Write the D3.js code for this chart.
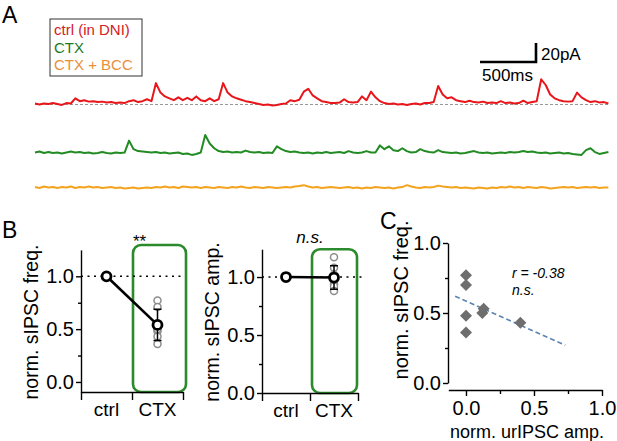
<!DOCTYPE html>
<html>
<head>
<meta charset="utf-8">
<script src="https://cdn.jsdelivr.net/npm/d3@7"></script>
<style>
  body { margin: 0; background: #fff; }
  svg { display: block; font-family: "Liberation Sans", Arial, sans-serif; }
</style>
</head>
<body>
<div id="chart"></div>
<script>
// ---- A: example traces, pA, one sample every 40 ms ----
const DT = 40;
const ctrlTrace = [
  0.5, -0.5, 0.5, 0, 1, 0, -1, 1, 0.5, 6, 3, 4, 2.5, 3, 2, 2.5, 1.5, 2, 1, 1.5,
  1, 3, 4, 2, 3, 5, 3, 22, 12, 8, 6, 4, 7, 4, 6.5, 4, 8, 4, 3, 6,
  3, 5, 22, 12, 8, 6, 4.5, 3, 2, 1, 0, -1, -0.5, -1.5, -1, 0, 0.5, 4, 3, 4.5,
  13, 16, 9, 6, 3, 2, 1, 1, 1.5, 5, 2, 1.5, 2, 8, 4, 13, 7, 3, 1, 0,
  0.5, -0.5, 0, -1, 0, 0.5, -0.5, 1, 1, 2, 19, 10, 6, 7, 4, 3, 2, 3.5, 2, 1.5,
  2.5, 1, 1.5, 1, 3, 1, 1.5, 0.5, 1, 3.5, 1, 2, 3, 26, 20, 10, 6, 4, 3, 2.5,
  3, 12, 7, 4, 2, 3, 1.5, 2, 0.5
];
const ctxTrace = [
  0.5, 1.5, 0, 1, 0, 0.5, -0.5, 0.5, 1.5, 0.5, 1, 0, 0.5, -0.5, 0, 1, 0, -0.5, 0.5, 0,
  0.5, 13, 4, 2, 1.5, 1, 0.5, 1, 0, 0.5, -0.5, 0, 0.5, -1, -0.5, -2, -1, 0.5, 19, 10,
  5, 2, 1, 1.5, 0.5, 1, 0.5, 2.5, 1, 0.5, 1, 0, 0.5, 0, 7, 4, 2, 1, 1.5, 0.5,
  0, 0.5, -0.5, 0.5, 0, 1, 0, 0.5, 1, 0, 2, 0.5, 0, 0.5, 2, 0.5, 0.5, 8, 4, 7,
  3, 2, 5, 2, 0.5, 1, 4, 2, 1, 0.5, 3, 1, 0.5, 0, 0.5, -0.5, 0, 1, 2, 0.5,
  0, 0.5, -0.5, 0, 0.5, 0, 1, 0.5, 1, 2, 1, 1.5, 0.5, 0, 0.5, -0.5, 0, 0.5, -0.5, 0,
  -1, -1.5, -2, 3, 5, 1, -1, 0, 1
];
const bccTrace = [
  1, 0, 1.5, 0.5, 1, 0, 1, 0.5, 1.5, 0, 1, 0.5, 1.5, 0.5, 1, 0, 0.5, 1, 0, 0.5,
  -0.5, 0, 0.5, -0.5, 0, 0.5, 0, 1, 0.5, 1.5, 0.5, 1, 0, 1.5, 1, 0.5, 1, 0, 1, 0.5,
  0, 1, 0.5, 0, 1, 0.5, 1.5, 0.5, 0, 1, 0.5, 0, 1, 0.5, 0, 0.5, 1, 0.5, 1.5, 2,
  3, 1.5, 0.5, 1, 0, 0.5, 1, 0.5, 0, 0.5, 1, 0, 0.5, -0.5, 0.5, 0, 1, 0.5, 0, 0.5,
  -0.5, 0.5, 1, 3, 1.5, 0.5, 0, 1, 0.5, 1, 2.5, 1.5, 1, 0.5, 1, 0, 0.5, 0, -0.5, 0.5,
  0, -0.5, 0.5, 0, 1, 0.5, 1.5, 0.5, 1, 0, 1, 0.5, 0, 1, 0.5, -0.5, 0, 0.5, 1, 0.5,
  1, 0, 0.5, 1, 0.5, 1, 0, 0.5, 0.5
];
const legendLabels = ['ctrl (in DNI)', 'CTX', 'CTX + BCC'];
const traceColors = ['#e8161b', '#238b23', '#f4a31f'];
const legendColors = ['#d42027', '#1f7a1f', '#e8903a'];

// ---- B: normalised to ctrl, one value per cell ----
const conditions = ['ctrl', 'CTX'];
const freqCTX = [0.77, 0.71, 0.48, 0.36, 0.53, 0.50, 0.43];
const ampCTX = [1.17, 1.08, 1.02, 0.96, 0.94, 0.92, 0.88];
const bTicks = [0, 0.5, 1.0];
const bMinorTicks = [0.25, 0.75];

// ---- C: correlation ----
const urAmp = [0, 0, 0, 0, 0.13, 0.12, 0.40];
const corrFreq = [0.77, 0.70, 0.48, 0.36, 0.53, 0.50, 0.43];
const fitLine = [[-0.08, 0.62], [0.73, 0.27]];
const cTicks = [0, 0.5, 1.0];
const cMinorTicks = [0.25, 0.75];

const W = 617, H = 441;
const svg = d3.select('#chart').append('svg')
  .attr('width', W).attr('height', H);

const fmt = d3.format('.1f');

function panelLetter(t, x, y) {
  svg.append('text').attr('x', x).attr('y', y)
    .attr('font-size', 23).text(t);
}

// ================= A =================
panelLetter('A', 2, 23);

const xT = d3.scaleLinear().domain([0, (ctrlTrace.length - 1) * DT]).range([35, 608.4]);
const traceBase = [104, 153, 188];
const traces = [ctrlTrace, ctxTrace, bccTrace];
const yTraces = traceBase.map(b => d3.scaleLinear().domain([0, 20]).range([b, b - 19]));

svg.append('line')
  .attr('x1', xT(0)).attr('x2', xT((ctrlTrace.length - 1) * DT))
  .attr('y1', yTraces[0](0) + 0.5).attr('y2', yTraces[0](0) + 0.5)
  .attr('stroke', '#999').attr('stroke-width', 1.2)
  .attr('stroke-dasharray', '3,2');

traces.forEach((tr, k) => {
  const line = d3.line()
    .x((d, i) => xT(i * DT))
    .y(d => yTraces[k](d));
  svg.append('path')
    .attr('d', line(tr))
    .attr('fill', 'none')
    .attr('stroke', traceColors[k])
    .attr('stroke-width', 2)
    .attr('stroke-linejoin', 'round');
});

// legend
const legend = svg.append('g');
legend.append('rect')
  .attr('x', 50).attr('y', 19).attr('width', 92).attr('height', 57)
  .attr('fill', 'none').attr('stroke', '#333').attr('stroke-width', 1);
legend.selectAll('text').data(legendLabels).enter().append('text')
  .attr('x', 54).attr('y', (d, i) => 35 + i * 17.5)
  .attr('font-size', 15)
  .attr('fill', (d, i) => legendColors[i])
  .text(d => d);

// scale bar: 500 ms, 20 pA
const sbX = 536, sbY = 62;
const sbLen = xT(500) - xT(0);
const sbH = yTraces[0](0) - yTraces[0](20);
svg.append('path')
  .attr('d', `M${sbX - sbLen},${sbY}H${sbX}V${sbY - sbH}`)
  .attr('fill', 'none').attr('stroke', '#000').attr('stroke-width', 2.6);
svg.append('text').attr('x', sbX + 5).attr('y', 60)
  .attr('font-size', 17).text('20pA');
svg.append('text').attr('x', sbX - sbLen + 2).attr('y', 81)
  .attr('font-size', 17).text('500ms');

// ================= B =================
panelLetter('B', 2, 238);

function pairPanel(p) {
  const g = svg.append('g');
  const y = d3.scaleLinear().domain(p.yDomain).range(p.yRange);
  const x = d3.scaleBand().domain(conditions).range(p.xRange);
  const xEdge = d3.scaleLinear().domain([0, 2]).range(p.xRange);
  const axisY = p.yRange[0];
  const cx = c => x(c) + x.bandwidth() / 2;

  // green box around CTX
  g.append('rect')
    .attr('x', x('CTX') + p.boxPad[0])
    .attr('width', x.bandwidth() + p.boxPad[1])
    .attr('y', y(p.boxTop))
    .attr('height', axisY - y(p.boxTop))
    .attr('rx', 8).attr('ry', 8)
    .attr('fill', 'none').attr('stroke', '#2b8a2b').attr('stroke-width', 2.6);

  // dotted reference at 1.0
  g.append('line')
    .attr('x1', p.xRange[0]).attr('x2', p.xRange[1] + p.dotExtra)
    .attr('y1', y(1)).attr('y2', y(1))
    .attr('stroke', '#000').attr('stroke-width', 1.6)
    .attr('stroke-dasharray', '2,4.5');

  // y axis
  const ya = g.append('g').attr('transform', `translate(${p.xRange[0]},0)`)
    .call(d3.axisLeft(y).tickValues(bTicks).tickFormat(fmt)
      .tickSize(5).tickSizeOuter(0).tickPadding(2));
  g.append('g').attr('transform', `translate(${p.xRange[0]},0)`)
    .call(d3.axisLeft(y).tickValues(bMinorTicks).tickFormat('')
      .tickSize(3).tickSizeOuter(0))
    .select('.domain').remove();

  // x axis
  g.append('g').attr('transform', `translate(0,${axisY})`)
    .call(d3.axisBottom(xEdge).tickValues([0, 1, 2]).tickFormat('')
      .tickSize(8).tickSizeOuter(0));
  g.selectAll('.tick line, .domain').attr('stroke', '#000').attr('stroke-width', 1.4);
  ya.selectAll('text').attr('font-size', 20).attr('font-family', null).attr('fill', '#000');

  g.selectAll('.xlab').data(conditions).enter().append('text')
    .attr('x', d => cx(d)).attr('y', axisY + 24)
    .attr('text-anchor', 'middle').attr('font-size', 19)
    .text(d => d);

  // y title
  g.append('text')
    .attr('transform', `translate(${p.titleX},322) rotate(-90)`)
    .attr('dy', '0.35em').attr('text-anchor', 'middle')
    .attr('font-size', 19.5).text(p.title);

  // significance
  g.append('text').attr('x', cx('CTX') + p.sigDx).attr('y', p.sigY)
    .attr('text-anchor', 'middle').attr('font-size', p.sigSize)
    .attr('font-style', p.sigItalic ? 'italic' : 'normal')
    .text(p.sig);

  // individual cells
  g.selectAll('.cell').data(p.values).enter().append('circle')
    .attr('cx', cx('CTX')).attr('cy', d => y(d)).attr('r', 3.5)
    .attr('fill', '#fff').attr('stroke', '#8c8c8c').attr('stroke-width', 1.5);

  const m = d3.mean(p.values), sd = d3.deviation(p.values);
  g.append('line')
    .attr('x1', cx('ctrl')).attr('y1', y(1))
    .attr('x2', cx('CTX')).attr('y2', y(m))
    .attr('stroke', '#000').attr('stroke-width', 2.6);
  g.append('path')
    .attr('d', `M${cx('CTX') - 4},${y(m + sd)}H${cx('CTX') + 4}M${cx('CTX')},${y(m + sd)}V${y(m - sd)}M${cx('CTX') - 4},${y(m - sd)}H${cx('CTX') + 4}`)
    .attr('fill', 'none').attr('stroke', '#000').attr('stroke-width', 1.5);
  g.selectAll('.mean').data([[cx('ctrl'), 1], [cx('CTX'), m]]).enter().append('circle')
    .attr('cx', d => d[0]).attr('cy', d => y(d[1])).attr('r', 4.5)
    .attr('fill', '#fff').attr('stroke', '#000').attr('stroke-width', 2.8);
}

pairPanel({
  values: freqCTX, title: 'norm. sIPSC freq.',
  yDomain: [-0.095, 1.25], yRange: [392, 249.9], xRange: [81, 183],
  boxPad: [1, 2], boxTop: 1.296, dotExtra: 2, titleX: 31,
  sig: '**', sigDx: -18, sigY: 247, sigSize: 17, sigItalic: false
});
pairPanel({
  values: ampCTX, title: 'norm. sIPSC amp.',
  yDomain: [0, 1.24], yRange: [393, 249.2], xRange: [262, 358],
  boxPad: [2, -3], boxTop: 1.24, dotExtra: 8, titleX: 212,
  sig: 'n.s.', sigDx: -24, sigY: 243, sigSize: 17, sigItalic: true
});

// ================= C =================
panelLetter('C', 380, 229);

const xC = d3.scaleLinear().domain([-0.13, 1.0]).range([448.3, 602]);
const yC = d3.scaleLinear().domain([0, 1]).range([383, 243]);
const gC = svg.append('g');

gC.append('g').attr('transform', 'translate(448,0)')
  .call(d3.axisLeft(yC).tickValues(cTicks).tickFormat(fmt)
    .tickSize(5).tickSizeOuter(0).tickPadding(2));
gC.append('g').attr('transform', 'translate(448,0)')
  .call(d3.axisLeft(yC).tickValues(cMinorTicks).tickFormat('').tickSize(3).tickSizeOuter(0))
  .select('.domain').remove();
gC.append('g').attr('transform', 'translate(0,390)')
  .call(d3.axisBottom(xC).tickValues(cTicks).tickFormat(fmt)
    .tickSize(6).tickSizeOuter(0).tickPadding(5));
gC.append('g').attr('transform', 'translate(0,390)')
  .call(d3.axisBottom(xC).tickValues(cMinorTicks).tickFormat('').tickSize(4).tickSizeOuter(0))
  .select('.domain').remove();
gC.selectAll('.tick line, .domain').attr('stroke', '#000').attr('stroke-width', 1.4);
gC.selectAll('.tick text').attr('font-size', 20).attr('font-family', null).attr('fill', '#000');

gC.append('text')
  .attr('transform', 'translate(401,300) rotate(-90)')
  .attr('dy', '0.35em').attr('text-anchor', 'middle')
  .attr('font-size', 20).text('norm. sIPSC freq.');
gC.append('text').attr('x', 527).attr('y', 438)
  .attr('text-anchor', 'middle').attr('font-size', 18)
  .text('norm. urIPSC amp.');

gC.append('line')
  .attr('x1', xC(fitLine[0][0])).attr('y1', yC(fitLine[0][1]))
  .attr('x2', xC(fitLine[1][0])).attr('y2', yC(fitLine[1][1]))
  .attr('stroke', '#5b84b1').attr('stroke-width', 1.6)
  .attr('stroke-dasharray', '5,3');

gC.selectAll('.pt').data(urAmp.map((v, i) => [v, corrFreq[i]])).enter()
  .append('path')
  .attr('d', d3.symbol(d3.symbolSquare, 72))
  .attr('transform', d => `translate(${xC(d[0])},${yC(d[1])}) rotate(45)`)
  .attr('fill', '#6e6e6e');

gC.append('text').attr('x', 512).attr('y', 278)
  .attr('font-size', 14).attr('font-style', 'italic').text('r = -0.38');
gC.append('text').attr('x', 512).attr('y', 295)
  .attr('font-size', 14).attr('font-style', 'italic').text('n.s.');
</script>
</body>
</html>
